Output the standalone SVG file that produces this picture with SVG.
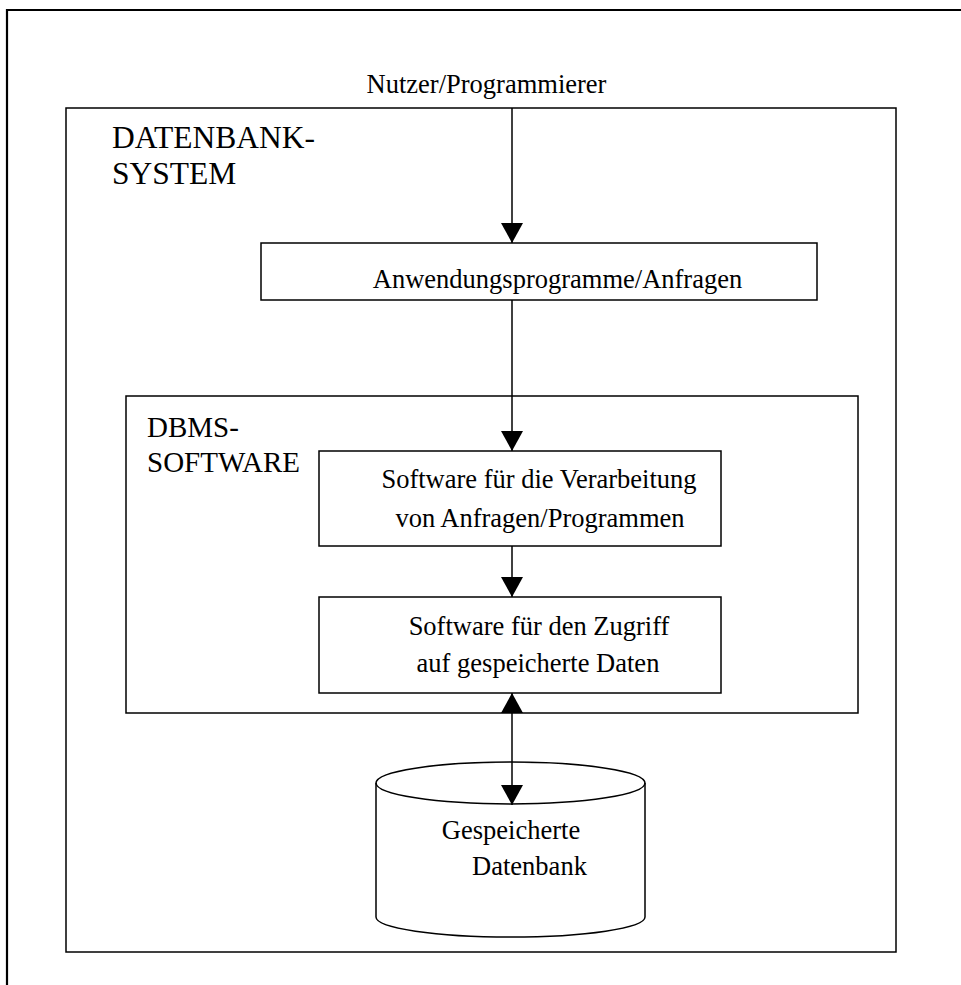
<svg xmlns="http://www.w3.org/2000/svg" width="961" height="985" viewBox="0 0 961 985">
  <style>
    .box { fill: #ffffff; stroke: #000000; stroke-width: 1.5; }
    .frame { fill: none; stroke: #000000; stroke-width: 2.2; }
    .conn { fill: none; stroke: #000000; stroke-width: 1.5; }
    text { font-family: "Liberation Serif", "Times New Roman", serif; fill: #000000; }
    .t { font-size: 26.5px; }
    .mid { text-anchor: middle; }
    .big { font-size: 31.5px; }
    .med { font-size: 29px; }
  </style>
  <defs>
    <marker id="arrow" markerUnits="userSpaceOnUse" markerWidth="22" markerHeight="22" refX="20" refY="11" orient="auto-start-reverse" viewBox="0 0 22 22">
      <path d="M0,0 L20,11 L0,22 Z" fill="#000000"/>
    </marker>
  </defs>
  <rect width="961" height="985" fill="#ffffff"/>

  <g id="frame">
    <path class="frame" d="M7,985 L7,10 L961,10"/>
  </g>

  <g id="nutzer">
    <text class="t mid" x="486.5" y="93">Nutzer/Programmierer</text>
  </g>

  <g id="datenbanksystem">
    <rect class="box" x="66" y="108" width="830" height="844"/>
    <text class="big" x="112" y="148">DATENBANK-</text>
    <text class="big" x="112" y="184">SYSTEM</text>
  </g>

  <g id="anwendung">
    <rect class="box" x="261" y="243" width="556" height="57"/>
    <text class="t mid" x="557.5" y="288">Anwendungsprogramme/Anfragen</text>
  </g>

  <g id="dbms">
    <rect class="box" x="126" y="396" width="732" height="317"/>
    <text class="med" x="147" y="437">DBMS-</text>
    <text class="med" x="147" y="472">SOFTWARE</text>
  </g>

  <g id="verarbeitung">
    <rect class="box" x="319" y="451" width="402" height="95"/>
    <text class="t mid" x="539" y="488">Software für die Verarbeitung</text>
    <text class="t mid" x="540" y="527">von Anfragen/Programmen</text>
  </g>

  <g id="zugriff">
    <rect class="box" x="319" y="597" width="402" height="96"/>
    <text class="t mid" x="539" y="635">Software für den Zugriff</text>
    <text class="t mid" x="538" y="672">auf gespeicherte Daten</text>
  </g>

  <g id="datenbank">
    <path class="box" d="M376,783 L376,917 A134.5,20 0 0 0 645,917 L645,783 A134.5,21 0 0 0 376,783 Z"/>
    <path class="conn" d="M376,783 A134.5,21 0 0 0 645,783"/>
    <text class="t mid" x="511" y="839">Gespeicherte</text>
    <text class="t mid" x="529.5" y="875">Datenbank</text>
  </g>

  <g id="connectors">
    <line class="conn" x1="512" y1="108" x2="512" y2="243" marker-end="url(#arrow)"/>
    <line class="conn" x1="512" y1="300" x2="512" y2="451" marker-end="url(#arrow)"/>
    <line class="conn" x1="512" y1="546" x2="512" y2="597" marker-end="url(#arrow)"/>
    <line class="conn" x1="512" y1="693" x2="512" y2="805" marker-start="url(#arrow)" marker-end="url(#arrow)"/>
  </g>
</svg>
